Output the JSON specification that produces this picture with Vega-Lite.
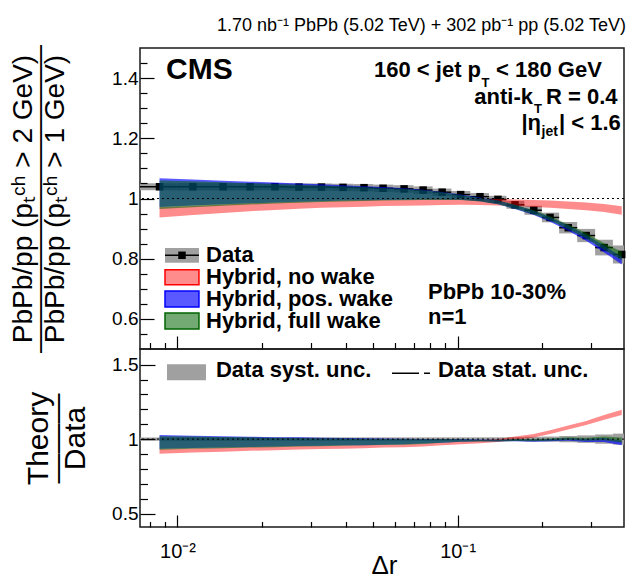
{
"$schema": "https://vega.github.io/schema/vega-lite/v6.json",
"background": "white",
"padding": {"left": 8, "top": 15, "right": 5, "bottom": 0},
"spacing": 0,
"bounds": "flush",
"config": {
  "view": {"stroke": "#1a1a1a", "strokeWidth": 1.5},
  "axis": {"domain": false, "grid": false, "tickColor": "#000", "tickWidth": 1.2, "labelColor": "#000", "titleColor": "#000", "labelFont": "Liberation Sans", "titleFont": "Liberation Sans", "titleFontWeight": "normal", "labelFlush": false, "labelOverlap": false},
  "text": {"font": "Liberation Sans", "color": "#000"},
  "title": {"font": "Liberation Sans", "color": "#000", "fontWeight": "normal"}
},
"datasets": {
  "bins": [
    {"x": 0.00863, "xlo": 0.00735, "xhi": 0.0099, "d": 1.039, "slo": 1.027, "shi": 1.051, "blo": 0.972, "bhi": 1.067, "glo": 0.965, "ghi": 1.060, "rlo": 0.937, "rhi": 0.971, "rslo": 0.9885, "rshi": 1.0115, "tblo": 0.936, "tbhi": 1.027, "tglo": 0.929, "tghi": 1.020, "trlo": 0.902, "trhi": 0.935},
    {"x": 0.01135, "xlo": 0.0099, "xhi": 0.01285, "d": 1.039, "slo": 1.027, "shi": 1.051, "blo": 0.977, "bhi": 1.063, "glo": 0.971, "ghi": 1.057, "rlo": 0.945, "rhi": 0.975, "rslo": 0.9885, "rshi": 1.0115, "tblo": 0.940, "tbhi": 1.023, "tglo": 0.935, "tghi": 1.017, "trlo": 0.910, "trhi": 0.938},
    {"x": 0.01454, "xlo": 0.01285, "xhi": 0.01626, "d": 1.039, "slo": 1.027, "shi": 1.051, "blo": 0.981, "bhi": 1.059, "glo": 0.976, "ghi": 1.054, "rlo": 0.952, "rhi": 0.980, "rslo": 0.9885, "rshi": 1.0115, "tblo": 0.944, "tbhi": 1.019, "tglo": 0.939, "tghi": 1.014, "trlo": 0.916, "trhi": 0.943},
    {"x": 0.01816, "xlo": 0.01626, "xhi": 0.02011, "d": 1.039, "slo": 1.027, "shi": 1.051, "blo": 0.984, "bhi": 1.056, "glo": 0.980, "ghi": 1.051, "rlo": 0.958, "rhi": 0.984, "rslo": 0.9885, "rshi": 1.0115, "tblo": 0.947, "tbhi": 1.016, "tglo": 0.943, "tghi": 1.012, "trlo": 0.922, "trhi": 0.947},
    {"x": 0.02228, "xlo": 0.02011, "xhi": 0.0246, "d": 1.039, "slo": 1.027, "shi": 1.051, "blo": 0.987, "bhi": 1.053, "glo": 0.983, "ghi": 1.048, "rlo": 0.962, "rhi": 0.987, "rslo": 0.9885, "rshi": 1.0115, "tblo": 0.950, "tbhi": 1.013, "tglo": 0.946, "tghi": 1.009, "trlo": 0.926, "trhi": 0.950},
    {"x": 0.02716, "xlo": 0.0246, "xhi": 0.02979, "d": 1.038, "slo": 1.026, "shi": 1.050, "blo": 0.989, "bhi": 1.050, "glo": 0.986, "ghi": 1.046, "rlo": 0.966, "rhi": 0.989, "rslo": 0.9884, "rshi": 1.0116, "tblo": 0.953, "tbhi": 1.012, "tglo": 0.950, "tghi": 1.008, "trlo": 0.931, "trhi": 0.953},
    {"x": 0.03266, "xlo": 0.02979, "xhi": 0.03568, "d": 1.038, "slo": 1.026, "shi": 1.050, "blo": 0.991, "bhi": 1.047, "glo": 0.988, "ghi": 1.043, "rlo": 0.969, "rhi": 0.991, "rslo": 0.9884, "rshi": 1.0116, "tblo": 0.955, "tbhi": 1.009, "tglo": 0.952, "tghi": 1.005, "trlo": 0.934, "trhi": 0.955},
    {"x": 0.03899, "xlo": 0.03568, "xhi": 0.04251, "d": 1.037, "slo": 1.025, "shi": 1.049, "blo": 0.993, "bhi": 1.044, "glo": 0.990, "ghi": 1.041, "rlo": 0.971, "rhi": 0.993, "rslo": 0.9884, "rshi": 1.0116, "tblo": 0.958, "tbhi": 1.007, "tglo": 0.955, "tghi": 1.004, "trlo": 0.936, "trhi": 0.958},
    {"x": 0.04634, "xlo": 0.04251, "xhi": 0.05012, "d": 1.036, "slo": 1.024, "shi": 1.048, "blo": 0.994, "bhi": 1.041, "glo": 0.992, "ghi": 1.038, "rlo": 0.973, "rhi": 0.995, "rslo": 0.9884, "rshi": 1.0116, "tblo": 0.959, "tbhi": 1.005, "tglo": 0.958, "tghi": 1.002, "trlo": 0.939, "trhi": 0.960},
    {"x": 0.0542, "xlo": 0.05012, "xhi": 0.05906, "d": 1.034, "slo": 1.022, "shi": 1.046, "blo": 0.995, "bhi": 1.038, "glo": 0.993, "ghi": 1.035, "rlo": 0.975, "rhi": 0.996, "rslo": 0.9884, "rshi": 1.0116, "tblo": 0.962, "tbhi": 1.004, "tglo": 0.960, "tghi": 1.001, "trlo": 0.943, "trhi": 0.963},
    {"x": 0.06442, "xlo": 0.05906, "xhi": 0.06966, "d": 1.032, "slo": 1.020, "shi": 1.044, "blo": 0.996, "bhi": 1.034, "glo": 0.994, "ghi": 1.032, "rlo": 0.976, "rhi": 0.997, "rslo": 0.9884, "rshi": 1.0116, "tblo": 0.965, "tbhi": 1.002, "tglo": 0.963, "tghi": 1.000, "trlo": 0.946, "trhi": 0.966},
    {"x": 0.07534, "xlo": 0.06966, "xhi": 0.08147, "d": 1.028, "slo": 1.016, "shi": 1.040, "blo": 0.997, "bhi": 1.029, "glo": 0.995, "ghi": 1.027, "rlo": 0.977, "rhi": 0.998, "rslo": 0.9883, "rshi": 1.0117, "tblo": 0.970, "tbhi": 1.001, "tglo": 0.968, "tghi": 0.999, "trlo": 0.950, "trhi": 0.971},
    {"x": 0.0881, "xlo": 0.08147, "xhi": 0.09506, "d": 1.021, "slo": 1.009, "shi": 1.033, "blo": 0.997, "bhi": 1.022, "glo": 0.995, "ghi": 1.021, "rlo": 0.978, "rhi": 0.999, "rslo": 0.9882, "rshi": 1.0118, "tblo": 0.976, "tbhi": 1.001, "tglo": 0.975, "tghi": 1.000, "trlo": 0.958, "trhi": 0.978},
    {"x": 0.10257, "xlo": 0.09506, "xhi": 0.11103, "d": 1.013, "slo": 1.001, "shi": 1.025, "blo": 0.996, "bhi": 1.013, "glo": 0.995, "ghi": 1.012, "rlo": 0.979, "rhi": 0.999, "rslo": 0.9882, "rshi": 1.0118, "tblo": 0.983, "tbhi": 1.000, "tglo": 0.982, "tghi": 0.999, "trlo": 0.966, "trhi": 0.986},
    {"x": 0.12023, "xlo": 0.11103, "xhi": 0.12942, "d": 1.006, "slo": 0.994, "shi": 1.018, "blo": 0.991, "bhi": 1.003, "glo": 0.990, "ghi": 1.002, "rlo": 0.978, "rhi": 0.999, "rslo": 0.9881, "rshi": 1.0119, "tblo": 0.985, "tbhi": 0.997, "tglo": 0.984, "tghi": 0.996, "trlo": 0.972, "trhi": 0.993},
    {"x": 0.13932, "xlo": 0.12942, "xhi": 0.14944, "d": 0.997, "slo": 0.985, "shi": 1.009, "blo": 0.981, "bhi": 0.993, "glo": 0.981, "ghi": 0.993, "rlo": 0.977, "rhi": 0.998, "rslo": 0.988, "rshi": 1.012, "tblo": 0.984, "tbhi": 0.996, "tglo": 0.984, "tghi": 0.996, "trlo": 0.980, "trhi": 1.001},
    {"x": 0.16032, "xlo": 0.14944, "xhi": 0.17318, "d": 0.979, "slo": 0.966, "shi": 0.992, "blo": 0.965, "bhi": 0.978, "glo": 0.966, "ghi": 0.979, "rlo": 0.975, "rhi": 0.997, "rslo": 0.9867, "rshi": 1.0133, "tblo": 0.986, "tbhi": 0.999, "tglo": 0.987, "tghi": 1.000, "trlo": 0.996, "trhi": 1.018},
    {"x": 0.18707, "xlo": 0.17318, "xhi": 0.19999, "d": 0.961, "slo": 0.946, "shi": 0.976, "blo": 0.945, "bhi": 0.959, "glo": 0.947, "ghi": 0.961, "rlo": 0.972, "rhi": 0.995, "rslo": 0.9844, "rshi": 1.0156, "tblo": 0.983, "tbhi": 0.998, "tglo": 0.985, "tghi": 1.000, "trlo": 1.011, "trhi": 1.035},
    {"x": 0.2138, "xlo": 0.19999, "xhi": 0.23041, "d": 0.937, "slo": 0.921, "shi": 0.953, "blo": 0.923, "bhi": 0.938, "glo": 0.927, "ghi": 0.941, "rlo": 0.969, "rhi": 0.993, "rslo": 0.9829, "rshi": 1.0171, "tblo": 0.985, "tbhi": 1.001, "tglo": 0.989, "tghi": 1.004, "trlo": 1.034, "trhi": 1.060},
    {"x": 0.24831, "xlo": 0.23041, "xhi": 0.2673, "d": 0.903, "slo": 0.884, "shi": 0.922, "blo": 0.893, "bhi": 0.910, "glo": 0.898, "ghi": 0.914, "rlo": 0.965, "rhi": 0.990, "rslo": 0.979, "rshi": 1.021, "tblo": 0.989, "tbhi": 1.008, "tglo": 0.994, "tghi": 1.012, "trlo": 1.064, "trhi": 1.092},
    {"x": 0.28774, "xlo": 0.2673, "xhi": 0.30974, "d": 0.877, "slo": 0.855, "shi": 0.899, "blo": 0.860, "bhi": 0.879, "glo": 0.867, "ghi": 0.885, "rlo": 0.961, "rhi": 0.987, "rslo": 0.9749, "rshi": 1.0251, "tblo": 0.981, "tbhi": 1.002, "tglo": 0.989, "tghi": 1.009, "trlo": 1.094, "trhi": 1.122},
    {"x": 0.33343, "xlo": 0.30974, "xhi": 0.35842, "d": 0.837, "slo": 0.811, "shi": 0.863, "blo": 0.821, "bhi": 0.843, "glo": 0.830, "ghi": 0.851, "rlo": 0.955, "rhi": 0.982, "rslo": 0.9689, "rshi": 1.0311, "tblo": 0.981, "tbhi": 1.007, "tglo": 0.992, "tghi": 1.017, "trlo": 1.130, "trhi": 1.162},
    {"x": 0.38548, "xlo": 0.35842, "xhi": 0.3927, "d": 0.814, "slo": 0.784, "shi": 0.844, "blo": 0.781, "bhi": 0.806, "glo": 0.795, "ghi": 0.823, "rlo": 0.946, "rhi": 0.974, "rslo": 0.9631, "rshi": 1.0369, "tblo": 0.959, "tbhi": 0.990, "tglo": 0.977, "tghi": 1.011, "trlo": 1.162, "trhi": 1.197}
  ]
},
"vconcat": [
{
  "width": 484, "height": 301,
  "title": {"text": "1.70 nb⁻¹ PbPb (5.02 TeV) + 302 pb⁻¹ pp (5.02 TeV)", "anchor": "end", "frame": "group", "fontSize": 18, "fontWeight": "normal", "font": "Liberation Sans", "baseline": "alphabetic", "offset": -4, "dx": 2, "color": "#000"},
  "resolve": {"axis": {"x": "independent", "y": "independent"}},
  "layer": [
    {"data": {"name": "bins"}, "mark": {"type": "rect", "fill": "#a0a0a0"},
     "encoding": {
       "x": {"field": "xlo", "type": "quantitative", "scale": {"type": "log", "domain": [0.00735, 0.3927], "nice": false},
             "axis": {"orient": "bottom", "values": [0.01, 0.1], "tickSize": -13, "labels": false, "title": null, "zindex": 1}},
       "x2": {"field": "xhi"},
       "y": {"field": "slo", "type": "quantitative", "scale": {"domain": [0.5, 1.5], "nice": false, "zero": false},
             "axis": {"orient": "left", "values": [0.6, 0.8, 1, 1.2, 1.4], "tickSize": -14, "labelPadding": 16, "labelFontSize": 19, "format": "~g", "labelBaseline": "middle",
                      "title": ["PbPb/pp (pₜᶜʰ > 2 GeV)", "\u00a0", "———————————", "PbPb/pp (pₜᶜʰ > 1 GeV)"],
                      "titleFontSize": 28, "titleLineHeight": 16, "titleAngle": 270, "titleAlign": "center", "titleBaseline": "alphabetic", "titleX": -109, "titleY": 150.5, "zindex": 1}},
       "y2": {"field": "shi"}
     }},
    {"data": {"name": "bins"}, "mark": {"type": "rule", "color": "#000", "strokeWidth": 1.5},
     "encoding": {
       "x": {"field": "xlo", "type": "quantitative", "scale": {"type": "log", "domain": [0.00735, 0.3927], "nice": false}, "axis": null},
       "x2": {"field": "xhi"},
       "y": {"field": "d", "type": "quantitative", "scale": {"domain": [0.5, 1.5], "nice": false, "zero": false}, "axis": null}
     }},
    {"data": {"name": "bins"}, "mark": {"type": "square", "size": 56, "color": "#000", "opacity": 1},
     "encoding": {
       "x": {"field": "x", "type": "quantitative", "scale": {"type": "log", "domain": [0.00735, 0.3927], "nice": false}, "axis": null},
       "y": {"field": "d", "type": "quantitative", "scale": {"domain": [0.5, 1.5], "nice": false, "zero": false}, "axis": null}
     }},
    {"data": {"name": "bins"}, "mark": {"type": "area", "color": "#ff0000", "fillOpacity": 0.45},
     "encoding": {
       "x": {"field": "x", "type": "quantitative", "scale": {"type": "log", "domain": [0.00735, 0.3927], "nice": false},
             "axis": {"orient": "bottom", "values": [0.008, 0.009, 0.02, 0.03, 0.04, 0.05, 0.06, 0.07, 0.08, 0.09, 0.2, 0.3], "tickSize": -6.5, "labels": false, "title": null, "zindex": 1}},
       "y": {"field": "rlo", "type": "quantitative", "scale": {"domain": [0.5, 1.5], "nice": false, "zero": false},
             "axis": {"orient": "left", "values": [0.55, 0.65, 0.7, 0.75, 0.85, 0.9, 0.95, 1.05, 1.1, 1.15, 1.25, 1.3, 1.35, 1.45], "tickSize": -7, "labels": false, "title": null, "zindex": 1}},
       "y2": {"field": "rhi"}
     }},
    {"data": {"name": "bins"}, "mark": {"type": "area", "color": "#0000ff", "fillOpacity": 0.65},
     "encoding": {
       "x": {"field": "x", "type": "quantitative", "scale": {"type": "log", "domain": [0.00735, 0.3927], "nice": false}, "axis": null},
       "y": {"field": "blo", "type": "quantitative", "scale": {"domain": [0.5, 1.5], "nice": false, "zero": false}, "axis": null},
       "y2": {"field": "bhi"}
     }},
    {"data": {"name": "bins"}, "mark": {"type": "area", "color": "#006400", "fillOpacity": 0.55},
     "encoding": {
       "x": {"field": "x", "type": "quantitative", "scale": {"type": "log", "domain": [0.00735, 0.3927], "nice": false}, "axis": null},
       "y": {"field": "glo", "type": "quantitative", "scale": {"domain": [0.5, 1.5], "nice": false, "zero": false}, "axis": null},
       "y2": {"field": "ghi"}
     }},
    {"data": {"values": [{}]}, "mark": {"type": "rule", "color": "#000", "strokeWidth": 1, "strokeDash": [2, 3]},
     "encoding": {"y": {"datum": 1, "type": "quantitative", "scale": {"domain": [0.5, 1.5], "nice": false, "zero": false}, "axis": null}}},

    {"data": {"values": [{}]}, "mark": {"type": "text", "align": "left", "baseline": "alphabetic", "font": "Liberation Sans", "fontSize": 30, "fontWeight": "bold", "color": "#000"},
     "encoding": {"x": {"datum": 0.009101, "type": "quantitative", "scale": {"type": "log", "domain": [0.00735, 0.3927], "nice": false}, "axis": null},
                  "y": {"datum": 1.398, "type": "quantitative", "scale": {"domain": [0.5, 1.5], "nice": false, "zero": false}, "axis": null},
                  "text": {"value": "CMS"}}},
    {"data": {"values": [{}]}, "mark": {"type": "text", "align": "right", "baseline": "alphabetic", "font": "Liberation Sans", "fontSize": 22, "fontWeight": "bold", "color": "#000"},
     "encoding": {"x": {"datum": 0.12126, "type": "quantitative", "scale": {"type": "log", "domain": [0.00735, 0.3927], "nice": false}, "axis": null},
                  "y": {"datum": 1.4037, "type": "quantitative", "scale": {"domain": [0.5, 1.5], "nice": false, "zero": false}, "axis": null},
                  "text": {"value": "160 < jet p"}}},
    {"data": {"values": [{}]}, "mark": {"type": "text", "align": "left", "baseline": "alphabetic", "font": "Liberation Sans", "fontSize": 13, "fontWeight": "bold", "color": "#000"},
     "encoding": {"x": {"datum": 0.12176, "type": "quantitative", "scale": {"type": "log", "domain": [0.00735, 0.3927], "nice": false}, "axis": null},
                  "y": {"datum": 1.3704, "type": "quantitative", "scale": {"domain": [0.5, 1.5], "nice": false, "zero": false}, "axis": null},
                  "text": {"value": "T"}}},
    {"data": {"values": [{}]}, "mark": {"type": "text", "align": "left", "baseline": "alphabetic", "font": "Liberation Sans", "fontSize": 22, "fontWeight": "bold", "color": "#000"},
     "encoding": {"x": {"datum": 0.13716, "type": "quantitative", "scale": {"type": "log", "domain": [0.00735, 0.3927], "nice": false}, "axis": null},
                  "y": {"datum": 1.4037, "type": "quantitative", "scale": {"domain": [0.5, 1.5], "nice": false, "zero": false}, "axis": null},
                  "text": {"value": "< 180 GeV"}}},
    {"data": {"values": [{}]}, "mark": {"type": "text", "align": "right", "baseline": "alphabetic", "font": "Liberation Sans", "fontSize": 22, "fontWeight": "bold", "color": "#000"},
     "encoding": {"x": {"datum": 0.18586, "type": "quantitative", "scale": {"type": "log", "domain": [0.00735, 0.3927], "nice": false}, "axis": null},
                  "y": {"datum": 1.315, "type": "quantitative", "scale": {"domain": [0.5, 1.5], "nice": false, "zero": false}, "axis": null},
                  "text": {"value": "anti-k"}}},
    {"data": {"values": [{}]}, "mark": {"type": "text", "align": "left", "baseline": "alphabetic", "font": "Liberation Sans", "fontSize": 13, "fontWeight": "bold", "color": "#000"},
     "encoding": {"x": {"datum": 0.18741, "type": "quantitative", "scale": {"type": "log", "domain": [0.00735, 0.3927], "nice": false}, "axis": null},
                  "y": {"datum": 1.284, "type": "quantitative", "scale": {"domain": [0.5, 1.5], "nice": false, "zero": false}, "axis": null},
                  "text": {"value": "T"}}},
    {"data": {"values": [{}]}, "mark": {"type": "text", "align": "left", "baseline": "alphabetic", "font": "Liberation Sans", "fontSize": 22, "fontWeight": "bold", "color": "#000"},
     "encoding": {"x": {"datum": 0.20688, "type": "quantitative", "scale": {"type": "log", "domain": [0.00735, 0.3927], "nice": false}, "axis": null},
                  "y": {"datum": 1.315, "type": "quantitative", "scale": {"domain": [0.5, 1.5], "nice": false, "zero": false}, "axis": null},
                  "text": {"value": "R = 0.4"}}},
    {"data": {"values": [{}]}, "mark": {"type": "text", "align": "right", "baseline": "alphabetic", "font": "Liberation Sans", "fontSize": 22, "fontWeight": "bold", "color": "#000"},
     "encoding": {"x": {"datum": 0.19856, "type": "quantitative", "scale": {"type": "log", "domain": [0.00735, 0.3927], "nice": false}, "axis": null},
                  "y": {"datum": 1.2266, "type": "quantitative", "scale": {"domain": [0.5, 1.5], "nice": false, "zero": false}, "axis": null},
                  "text": {"value": "|η"}}},
    {"data": {"values": [{}]}, "mark": {"type": "text", "align": "left", "baseline": "alphabetic", "font": "Liberation Sans", "fontSize": 14, "fontWeight": "bold", "color": "#000"},
     "encoding": {"x": {"datum": 0.19938, "type": "quantitative", "scale": {"type": "log", "domain": [0.00735, 0.3927], "nice": false}, "axis": null},
                  "y": {"datum": 1.2066, "type": "quantitative", "scale": {"domain": [0.5, 1.5], "nice": false, "zero": false}, "axis": null},
                  "text": {"value": "jet"}}},
    {"data": {"values": [{}]}, "mark": {"type": "text", "align": "left", "baseline": "alphabetic", "font": "Liberation Sans", "fontSize": 22, "fontWeight": "bold", "color": "#000"},
     "encoding": {"x": {"datum": 0.23023, "type": "quantitative", "scale": {"type": "log", "domain": [0.00735, 0.3927], "nice": false}, "axis": null},
                  "y": {"datum": 1.2266, "type": "quantitative", "scale": {"domain": [0.5, 1.5], "nice": false, "zero": false}, "axis": null},
                  "text": {"value": "| < 1.6"}}},
    {"data": {"values": [{}]}, "mark": {"type": "text", "align": "left", "baseline": "alphabetic", "font": "Liberation Sans", "fontSize": 22, "fontWeight": "bold", "color": "#000"},
     "encoding": {"x": {"datum": 0.0784, "type": "quantitative", "scale": {"type": "log", "domain": [0.00735, 0.3927], "nice": false}, "axis": null},
                  "y": {"datum": 0.6671, "type": "quantitative", "scale": {"domain": [0.5, 1.5], "nice": false, "zero": false}, "axis": null},
                  "text": {"value": "PbPb 10-30%"}}},
    {"data": {"values": [{}]}, "mark": {"type": "text", "align": "left", "baseline": "alphabetic", "font": "Liberation Sans", "fontSize": 22, "fontWeight": "bold", "color": "#000"},
     "encoding": {"x": {"datum": 0.0784, "type": "quantitative", "scale": {"type": "log", "domain": [0.00735, 0.3927], "nice": false}, "axis": null},
                  "y": {"datum": 0.584, "type": "quantitative", "scale": {"domain": [0.5, 1.5], "nice": false, "zero": false}, "axis": null},
                  "text": {"value": "n=1"}}},

    {"data": {"values": [{}]}, "mark": {"type": "rect", "fill": "#a0a0a0"},
     "encoding": {"x": {"datum": 0.009027, "type": "quantitative", "scale": {"type": "log", "domain": [0.00735, 0.3927], "nice": false}, "axis": null},
                  "x2": {"datum": 0.011934},
                  "y": {"datum": 0.78671, "type": "quantitative", "scale": {"domain": [0.5, 1.5], "nice": false, "zero": false}, "axis": null},
                  "y2": {"datum": 0.83555}}},
    {"data": {"values": [{}]}, "mark": {"type": "rule", "color": "#000", "strokeWidth": 1.5},
     "encoding": {"x": {"datum": 0.009027, "type": "quantitative", "scale": {"type": "log", "domain": [0.00735, 0.3927], "nice": false}, "axis": null},
                  "x2": {"datum": 0.011934},
                  "y": {"datum": 0.8113, "type": "quantitative", "scale": {"domain": [0.5, 1.5], "nice": false, "zero": false}, "axis": null}}},
    {"data": {"values": [{}]}, "mark": {"type": "square", "size": 56, "color": "#000", "opacity": 1},
     "encoding": {"x": {"datum": 0.01038, "type": "quantitative", "scale": {"type": "log", "domain": [0.00735, 0.3927], "nice": false}, "axis": null},
                  "y": {"datum": 0.8113, "type": "quantitative", "scale": {"domain": [0.5, 1.5], "nice": false, "zero": false}, "axis": null}}},
    {"data": {"values": [{}]}, "mark": {"type": "rect", "fill": "#ff0000", "fillOpacity": 0.45, "stroke": "#ff0000", "strokeWidth": 1.5},
     "encoding": {"x": {"datum": 0.009027, "type": "quantitative", "scale": {"type": "log", "domain": [0.00735, 0.3927], "nice": false}, "axis": null},
                  "x2": {"datum": 0.011934},
                  "y": {"datum": 0.71362, "type": "quantitative", "scale": {"domain": [0.5, 1.5], "nice": false, "zero": false}, "axis": null},
                  "y2": {"datum": 0.76346}}},
    {"data": {"values": [{}]}, "mark": {"type": "rect", "fill": "#0000ff", "fillOpacity": 0.65, "stroke": "#0000ff", "strokeWidth": 1.5},
     "encoding": {"x": {"datum": 0.009027, "type": "quantitative", "scale": {"type": "log", "domain": [0.00735, 0.3927], "nice": false}, "axis": null},
                  "x2": {"datum": 0.011934},
                  "y": {"datum": 0.63953, "type": "quantitative", "scale": {"domain": [0.5, 1.5], "nice": false, "zero": false}, "axis": null},
                  "y2": {"datum": 0.69269}}},
    {"data": {"values": [{}]}, "mark": {"type": "rect", "fill": "#006400", "fillOpacity": 0.55, "stroke": "#006400", "strokeWidth": 1.5},
     "encoding": {"x": {"datum": 0.009027, "type": "quantitative", "scale": {"type": "log", "domain": [0.00735, 0.3927], "nice": false}, "axis": null},
                  "x2": {"datum": 0.011934},
                  "y": {"datum": 0.56645, "type": "quantitative", "scale": {"domain": [0.5, 1.5], "nice": false, "zero": false}, "axis": null},
                  "y2": {"datum": 0.6196}}},
    {"data": {"values": [{}]}, "mark": {"type": "text", "align": "left", "baseline": "alphabetic", "font": "Liberation Sans", "fontSize": 22, "fontWeight": "bold", "color": "#000"},
     "encoding": {"x": {"datum": 0.012643, "type": "quantitative", "scale": {"type": "log", "domain": [0.00735, 0.3927], "nice": false}, "axis": null},
                  "y": {"datum": 0.78738, "type": "quantitative", "scale": {"domain": [0.5, 1.5], "nice": false, "zero": false}, "axis": null},
                  "text": {"value": "Data"}}},
    {"data": {"values": [{}]}, "mark": {"type": "text", "align": "left", "baseline": "alphabetic", "font": "Liberation Sans", "fontSize": 22, "fontWeight": "bold", "color": "#000"},
     "encoding": {"x": {"datum": 0.012643, "type": "quantitative", "scale": {"type": "log", "domain": [0.00735, 0.3927], "nice": false}, "axis": null},
                  "y": {"datum": 0.71429, "type": "quantitative", "scale": {"domain": [0.5, 1.5], "nice": false, "zero": false}, "axis": null},
                  "text": {"value": "Hybrid, no wake"}}},
    {"data": {"values": [{}]}, "mark": {"type": "text", "align": "left", "baseline": "alphabetic", "font": "Liberation Sans", "fontSize": 22, "fontWeight": "bold", "color": "#000"},
     "encoding": {"x": {"datum": 0.012643, "type": "quantitative", "scale": {"type": "log", "domain": [0.00735, 0.3927], "nice": false}, "axis": null},
                  "y": {"datum": 0.6412, "type": "quantitative", "scale": {"domain": [0.5, 1.5], "nice": false, "zero": false}, "axis": null},
                  "text": {"value": "Hybrid, pos. wake"}}},
    {"data": {"values": [{}]}, "mark": {"type": "text", "align": "left", "baseline": "alphabetic", "font": "Liberation Sans", "fontSize": 22, "fontWeight": "bold", "color": "#000"},
     "encoding": {"x": {"datum": 0.012643, "type": "quantitative", "scale": {"type": "log", "domain": [0.00735, 0.3927], "nice": false}, "axis": null},
                  "y": {"datum": 0.56811, "type": "quantitative", "scale": {"domain": [0.5, 1.5], "nice": false, "zero": false}, "axis": null},
                  "text": {"value": "Hybrid, full wake"}}}
  ]
},
{
  "width": 484, "height": 178,
  "resolve": {"axis": {"x": "independent", "y": "independent"}},
  "layer": [
    {"data": {"name": "bins"}, "mark": {"type": "rect", "fill": "#a0a0a0"},
     "encoding": {
       "x": {"field": "xlo", "type": "quantitative", "scale": {"type": "log", "domain": [0.00735, 0.3927], "nice": false},
             "axis": {"orient": "bottom", "values": [0.01, 0.1], "tickSize": -12, "labelPadding": 26, "labelFontSize": 20, "labelBaseline": "top",
                      "labelExpr": "datum.value < 0.05 ? '10⁻²' : '10⁻¹'",
                      "title": "Δr", "titleFontSize": 26, "titleAlign": "center", "titleBaseline": "alphabetic", "titleX": 244, "titleY": 46, "zindex": 1}},
       "x2": {"field": "xhi"},
       "y": {"field": "rslo", "type": "quantitative", "scale": {"domain": [0.41, 1.605], "nice": false, "zero": false},
             "axis": {"orient": "left", "values": [0.5, 1, 1.5], "tickSize": -15, "labelPadding": 17, "labelFontSize": 19, "format": "~g", "labelBaseline": "middle",
                      "title": ["Theory", "———", "Data"], "titleFontSize": 30, "titleLineHeight": 18.5, "titleAngle": 270, "titleAlign": "center", "titleBaseline": "alphabetic", "titleX": -92.4, "titleY": 89, "zindex": 1}},
       "y2": {"field": "rshi"}
     }},
    {"data": {"name": "bins"}, "mark": {"type": "area", "color": "#ff0000", "fillOpacity": 0.45},
     "encoding": {
       "x": {"field": "x", "type": "quantitative", "scale": {"type": "log", "domain": [0.00735, 0.3927], "nice": false},
             "axis": {"orient": "bottom", "values": [0.008, 0.009, 0.02, 0.03, 0.04, 0.05, 0.06, 0.07, 0.08, 0.09, 0.2, 0.3], "tickSize": -5.5, "labels": false, "title": null, "zindex": 1}},
       "y": {"field": "trlo", "type": "quantitative", "scale": {"domain": [0.41, 1.605], "nice": false, "zero": false},
             "axis": {"orient": "left", "values": [0.6, 0.7, 0.8, 0.9, 1.1, 1.2, 1.3, 1.4], "tickSize": -7.5, "labels": false, "title": null, "zindex": 1}},
       "y2": {"field": "trhi"}
     }},
    {"data": {"name": "bins"}, "mark": {"type": "area", "color": "#0000ff", "fillOpacity": 0.65},
     "encoding": {
       "x": {"field": "x", "type": "quantitative", "scale": {"type": "log", "domain": [0.00735, 0.3927], "nice": false}, "axis": null},
       "y": {"field": "tblo", "type": "quantitative", "scale": {"domain": [0.41, 1.605], "nice": false, "zero": false}, "axis": null},
       "y2": {"field": "tbhi"}
     }},
    {"data": {"name": "bins"}, "mark": {"type": "area", "color": "#006400", "fillOpacity": 0.55},
     "encoding": {
       "x": {"field": "x", "type": "quantitative", "scale": {"type": "log", "domain": [0.00735, 0.3927], "nice": false}, "axis": null},
       "y": {"field": "tglo", "type": "quantitative", "scale": {"domain": [0.41, 1.605], "nice": false, "zero": false}, "axis": null},
       "y2": {"field": "tghi"}
     }},
    {"data": {"values": [{}]}, "mark": {"type": "rule", "color": "#000", "strokeWidth": 1, "strokeDash": [2, 3]},
     "encoding": {"y": {"datum": 1, "type": "quantitative", "scale": {"domain": [0.41, 1.605], "nice": false, "zero": false}, "axis": null}}},
    {"data": {"values": [{}]}, "mark": {"type": "rect", "fill": "#a0a0a0"},
     "encoding": {"x": {"datum": 0.009177, "type": "quantitative", "scale": {"type": "log", "domain": [0.00735, 0.3927], "nice": false}, "axis": null},
                  "x2": {"datum": 0.012643},
                  "y": {"datum": 1.39597, "type": "quantitative", "scale": {"domain": [0.41, 1.605], "nice": false, "zero": false}, "axis": null},
                  "y2": {"datum": 1.50336}}},
    {"data": {"values": [{}]}, "mark": {"type": "text", "align": "left", "baseline": "alphabetic", "font": "Liberation Sans", "fontSize": 22, "fontWeight": "bold", "color": "#000"},
     "encoding": {"x": {"datum": 0.013726, "type": "quantitative", "scale": {"type": "log", "domain": [0.00735, 0.3927], "nice": false}, "axis": null},
                  "y": {"datum": 1.41611, "type": "quantitative", "scale": {"domain": [0.41, 1.605], "nice": false, "zero": false}, "axis": null},
                  "text": {"value": "Data syst. unc."}}},
    {"data": {"values": [{}]}, "mark": {"type": "rule", "color": "#000", "strokeWidth": 1.5, "strokeDash": [27, 5, 6, 100]},
     "encoding": {"x": {"datum": 0.05834, "type": "quantitative", "scale": {"type": "log", "domain": [0.00735, 0.3927], "nice": false}, "axis": null},
                  "x2": {"datum": 0.0797},
                  "y": {"datum": 1.44295, "type": "quantitative", "scale": {"domain": [0.41, 1.605], "nice": false, "zero": false}, "axis": null}}},
    {"data": {"values": [{}]}, "mark": {"type": "text", "align": "left", "baseline": "alphabetic", "font": "Liberation Sans", "fontSize": 22, "fontWeight": "bold", "color": "#000"},
     "encoding": {"x": {"datum": 0.08516, "type": "quantitative", "scale": {"type": "log", "domain": [0.00735, 0.3927], "nice": false}, "axis": null},
                  "y": {"datum": 1.41611, "type": "quantitative", "scale": {"domain": [0.41, 1.605], "nice": false, "zero": false}, "axis": null},
                  "text": {"value": "Data stat. unc."}}}
  ]
}
]
}
